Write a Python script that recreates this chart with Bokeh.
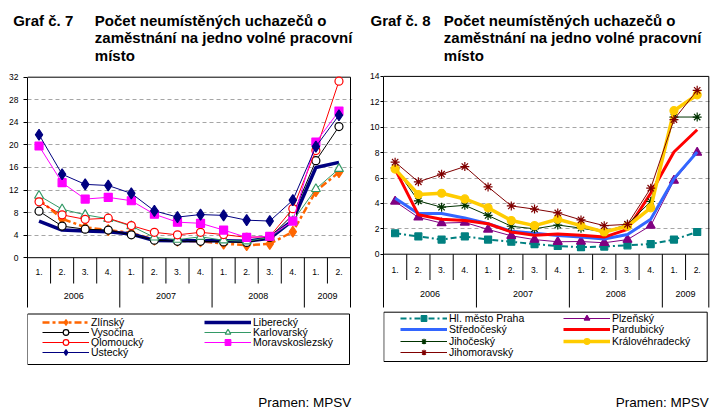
import numpy as np
from bokeh.plotting import figure
from bokeh.models import Range1d, FixedTicker, Legend, LegendItem, BoxAnnotation
from bokeh.layouts import row, column
from bokeh.embed import file_html
from bokeh.resources import INLINE
from bokeh.core.properties import value

FONT = "Liberation Sans"

# ---------------- data ----------------
quarters = ["1.", "2.", "3.", "4.", "1.", "2.", "3.", "4.", "1.", "2.", "3.", "4.", "1.", "2."]
years = ["2006"] * 4 + ["2007"] * 4 + ["2008"] * 4 + ["2009"] * 2

# Graf č. 7
ticks7 = [0, 4, 8, 12, 16, 20, 24, 28, 32]
zlinsky = [10.3, 6.9, 5.4, 4.9, 4.4, 3.2, 3.0, 2.9, 2.5, 2.2, 2.45, 4.6, 11.8, 15.15]
liberecky = [6.5, 4.9, 4.75, 4.6, 4.2, 3.05, 3.0, 3.0, 3.0, 2.9, 3.45, 6.6, 16.0, 16.9]
vysocina = [8.25, 5.6, 5.05, 4.9, 4.05, 3.1, 2.9, 2.9, 2.8, 2.7, 3.6, 7.6, 17.2, 23.25]
karlovarsky = [11.0, 8.6, 7.6, 6.9, 5.6, 3.6, 3.2, 3.7, 3.1, 2.9, 3.6, 6.5, 12.2, 15.75]
olomoucky = [9.9, 7.6, 6.8, 7.0, 5.7, 4.5, 4.05, 4.5, 4.1, 3.6, 3.75, 8.7, 19.0, 31.3]
moravskoslezsky = [19.8, 13.3, 10.4, 10.7, 10.1, 7.7, 6.3, 6.1, 4.9, 3.6, 3.8, 6.5, 20.5, 26.0]
ustecky = [21.8, 14.8, 13.0, 12.8, 11.4, 8.3, 7.2, 7.65, 7.5, 6.65, 6.5, 10.2, 19.7, 25.25]

# Graf č. 8
ticks8 = [0, 2, 4, 6, 8, 10, 12, 14]
praha = [1.65, 1.4, 1.15, 1.4, 1.15, 0.98, 0.8, 0.65, 0.55, 0.6, 0.7, 0.8, 1.15, 1.75]
plzensky = [4.15, 2.9, 2.45, 2.5, 1.95, 1.45, 1.15, 0.98, 1.0, 0.9, 1.15, 2.25, 5.8, 8.0]
stredocesky = [4.4, 3.2, 3.2, 2.85, 2.4, 1.8, 1.65, 1.47, 1.35, 1.2, 1.55, 2.75, 5.95, 8.05]
pardubicky = [6.7, 3.1, 2.75, 2.65, 2.4, 1.75, 1.5, 1.6, 1.5, 1.35, 1.95, 4.8, 8.05, 9.8]
jihocesky = [6.8, 4.2, 3.7, 3.85, 3.05, 2.2, 2.0, 2.3, 2.05, 1.75, 2.35, 4.15, 10.8, 10.8]
kralovehradecky = [6.7, 4.7, 4.8, 4.35, 3.65, 2.65, 2.25, 2.75, 2.25, 1.75, 2.2, 3.65, 11.3, 12.55]
jihomoravsky = [7.25, 5.7, 6.3, 6.9, 5.3, 3.8, 3.55, 3.25, 2.7, 2.25, 2.35, 5.2, 10.6, 12.9]

title_lines = ["Počet neumístěných uchazečů o", "zaměstnání na jedno volné pracovní", "místo"]
source_text = "Pramen: MPSV"

# ---------------- styles ----------------
series7 = [
    ("Zlínský", zlinsky, dict(color="#FF6600", width=2.5, dash="7 3 3 3", marker="diamond", size=11, fill="#FF6600")),
    ("Liberecký", liberecky, dict(color="#000080", width=3.5, dash="solid", marker=None)),
    ("Vysočina", vysocina, dict(color="#000000", width=1, dash="solid", marker="circle", size=8, fill="white")),
    ("Karlovarský", karlovarsky, dict(color="#339966", width=1, dash="solid", marker="triangle", size=9, fill="white")),
    ("Olomoucký", olomoucky, dict(color="#FF0000", width=1, dash="solid", marker="circle", size=8, fill="white")),
    ("Moravskoslezský", moravskoslezsky, dict(color="#FF00FF", width=1, dash="solid", marker="square", size=8, fill="#FF00FF")),
    ("Ústecký", ustecky, dict(color="#000080", width=1, dash="solid", marker="diamond", size=11, fill="#000080")),
]
legend7 = [["Zlínský", "Vysočina", "Olomoucký", "Ústecký"], ["Liberecký", "Karlovarský", "Moravskoslezský"]]

series8 = [
    ("Hl. město Praha", praha, dict(color="#008080", width=2, dash="6 3 2 3", marker="square", size=7, fill="#008080")),
    ("Plzeňský", plzensky, dict(color="#800080", width=1, dash="solid", marker="triangle", size=9, fill="#800080")),
    ("Středočeský", stredocesky, dict(color="#3366FF", width=3, dash="solid", marker=None)),
    ("Pardubický", pardubicky, dict(color="#FF0000", width=3, dash="solid", marker=None)),
    ("Jihočeský", jihocesky, dict(color="#003300", width=1, dash="solid", marker="asterisk", size=9, fill="#003300")),
    ("Královéhradecký", kralovehradecky, dict(color="#FFCC00", width=3.5, dash="solid", marker="circle", size=8, fill="#FFCC00")),
    ("Jihomoravský", jihomoravsky, dict(color="#800000", width=1, dash="solid", marker="asterisk", size=9, fill="#800000")),
]
legend8 = [["Hl. město Praha", "Středočeský", "Jihočeský", "Jihomoravský"], ["Plzeňský", "Pardubický", "Královéhradecký"]]

# ---------------- layout (page pixels) ----------------
PANEL_W = 358
TITLE_H = 64
PLOT_H = 349
FRAME_TOP = TITLE_H
FRAME_BOTTOM = TITLE_H + PLOT_H
TITLE_BASE = 19.5
TITLE_PITCH = 17.7


def title_fig(number, L):
    x0 = L["fig_left"]
    t = figure(title=None, width=PANEL_W, height=TITLE_H, x_range=Range1d(x0, x0 + PANEL_W),
               y_range=Range1d(TITLE_H, 0),
               x_axis_location=None, y_axis_location=None, toolbar_location=None, output_backend="svg",
               min_border=0, min_border_left=0, min_border_right=0, min_border_top=0, min_border_bottom=0,
               frame_align=False, background_fill_color="white", border_fill_color="white")
    t.outline_line_color = None
    t.grid.visible = False
    t.text(x=[L["graf_x"]], y=[TITLE_BASE], text=["Graf č. %d" % number], text_font=value(FONT),
           text_font_style="bold", text_font_size="15px", text_baseline="alphabetic", text_color="black")
    t.text(x=[L["pocet_x"]] * len(title_lines),
           y=[TITLE_BASE + TITLE_PITCH * i for i in range(len(title_lines))],
           text=title_lines, text_font=value(FONT), text_font_style="bold", text_font_size="15px",
           text_baseline="alphabetic", text_color="black")
    return t


def plot_fig(series, legend_cols, ticks, L):
    n = len(quarters)
    idx = list(range(n))
    frame_left = L["fig_left"] + L["mb_left"]
    frame_right = L["fig_left"] + PANEL_W - L["mb_right"]
    ppx = (L["box_right"] - frame_left) / n
    x_start = -0.5
    x_end = -0.5 + (frame_right - frame_left) / ppx
    ytop = ticks[-1]
    ppy = (L["y0"] - L["ytop"]) / ytop
    y_end = ytop + (L["ytop"] - FRAME_TOP) / ppy
    y_start = -(FRAME_BOTTOM - L["y0"]) / ppy

    def X(px):
        return x_start + (px - frame_left) / ppx

    def Y(py):
        return (L["y0"] - py) / ppy

    p = figure(title=None, width=PANEL_W, height=PLOT_H, x_range=Range1d(x_start, x_end),
               y_range=Range1d(y_start, y_end),
               x_axis_location=None, y_axis_location="left", toolbar_location=None, output_backend="svg",
               min_border_left=L["mb_left"], min_border_right=L["mb_right"], min_border_top=0, min_border_bottom=0,
               frame_align=False, background_fill_color="white", border_fill_color="white")
    p.outline_line_color = None
    p.xgrid.visible = False
    p.ygrid.ticker = FixedTicker(ticks=ticks[1:-1])
    p.ygrid.grid_line_color = "#A6A6A6"
    p.ygrid.grid_line_dash = "4 3"
    p.ygrid.grid_line_width = 1

    table_bottom = Y(L["table_bottom"])
    qrow_bottom = Y(L["qrow_bottom"])
    ax = p.yaxis[0]
    ax.ticker = FixedTicker(ticks=ticks)
    ax.bounds = (table_bottom, ytop)
    ax.major_tick_out = L["tick_out"]
    ax.major_tick_in = 0
    ax.minor_tick_out = 0
    ax.minor_tick_in = 0
    ax.axis_line_color = "black"
    ax.major_tick_line_color = "black"
    ax.major_label_standoff = L["standoff"]
    ax.major_label_text_font = FONT
    ax.major_label_text_font_size = "8.5px"
    ax.major_label_text_color = "black"

    # frame: top, bottom (x axis) and right borders
    p.segment(x0=[-0.5, -0.5, n - 0.5], y0=[ytop, 0, table_bottom], x1=[n - 0.5, n - 0.5, n - 0.5],
              y1=[ytop, 0, ytop], line_color="black", line_width=1)

    # category table separators
    sep_x, sep_b = [], []
    for i in range(n - 1):
        sep_x.append(i + 0.5)
        sep_b.append(table_bottom if years[i] != years[i + 1] else qrow_bottom)
    p.segment(x0=sep_x, y0=[0] * len(sep_x), x1=sep_x, y1=sep_b, line_color="black", line_width=1)

    p.text(x=idx, y=Y(L["q_label"]), text=quarters, text_align="center", text_baseline="middle",
           text_font=value(FONT), text_font_size="8.5px", text_color="black")
    uy = []
    for yv in years:
        if yv not in uy:
            uy.append(yv)
    yx = [float(np.mean([i for i in idx if years[i] == yv])) for yv in uy]
    p.text(x=yx, y=Y(L["y_label"]), text=uy, text_align="center", text_baseline="middle",
           text_font=value(FONT), text_font_size="9px", text_color="black")

    # series
    rends = {}
    for name, vals, st in series:
        r = [p.line(idx, vals, line_color=st["color"], line_width=st["width"], line_dash=st["dash"])]
        if st["marker"]:
            r.append(p.scatter(idx, vals, marker=st["marker"], size=st["size"], fill_color=st["fill"],
                               line_color=st["color"], line_width=1.2))
        rends[name] = r

    # legend box
    lb = L["legend_box"]
    p.add_layout(BoxAnnotation(left=X(lb[0]), right=X(lb[1]), top=Y(lb[2]), bottom=Y(lb[3]),
                               fill_alpha=0, line_color="black", line_width=1, line_alpha=1))
    GH = 14
    for ci, col in enumerate(legend_cols):
        for ri, nm in enumerate(col):
            center = L["row1"] + ri * L["pitch"]
            vx = L["col_x"][ci] - frame_left
            vy = FRAME_BOTTOM - (center + GH / 2)
            leg = Legend(items=[LegendItem(label=nm, renderers=rends[nm])],
                         location=(vx, vy), orientation="vertical", glyph_width=47, glyph_height=GH,
                         label_height=GH, label_standoff=2, spacing=0, padding=0, margin=0,
                         border_line_alpha=0, background_fill_alpha=0,
                         label_text_font=FONT, label_text_font_size="10.5px", label_text_color="black")
            p.add_layout(leg)

    p.text(x=[X(L["pramen_right"])], y=[Y(401.5)], text=[source_text], text_font=value(FONT),
           text_font_size="13.5px", text_align="right", text_baseline="alphabetic", text_color="black")
    return p


L7 = dict(fig_left=0, mb_left=27, mb_right=6, box_right=350, y0=257.2, ytop=76.7,
          qrow_bottom=283, table_bottom=307, q_label=271.5, y_label=295,
          tick_out=4, standoff=5, legend_box=(27, 349, 313.5, 364), pitch=10.2, row1=321.7,
          col_x=[42, 204], graf_x=12.7, pocet_x=94.3, pramen_right=350.7)
L8 = dict(fig_left=358, mb_left=25, mb_right=6, box_right=708.3, y0=253.7, ytop=75.9,
          qrow_bottom=279.5, table_bottom=307, q_label=269, y_label=293,
          tick_out=3, standoff=1, legend_box=(383.3, 706.7, 311.7, 361), pitch=11.1, row1=318.3,
          col_x=[400, 563], graf_x=370, pocet_x=443.3, pramen_right=708.3)

left = column(title_fig(7, L7), plot_fig(series7, legend7, ticks7, L7))
right = column(title_fig(8, L8), plot_fig(series8, legend8, ticks8, L8))

layout = row(left, right)
open("out.html", "w").write(file_html(layout, INLINE))
